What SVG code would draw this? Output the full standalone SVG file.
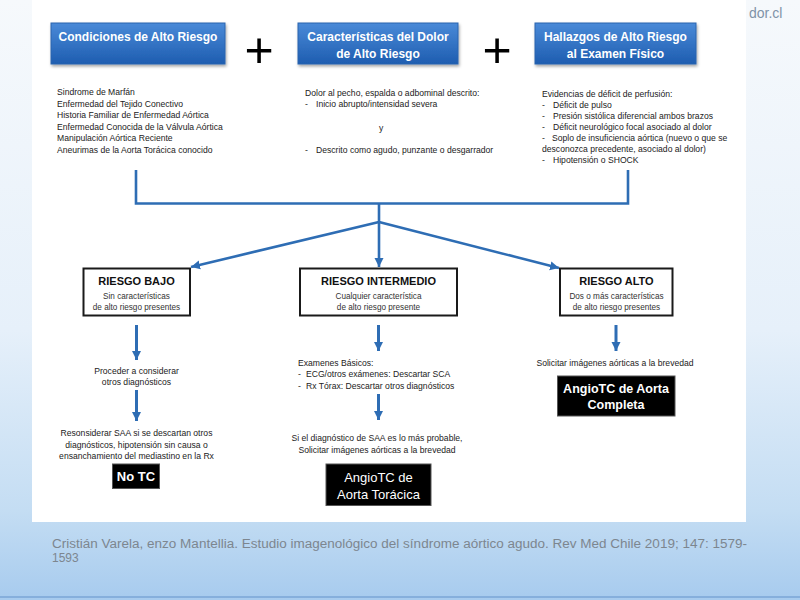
<svg xmlns="http://www.w3.org/2000/svg" width="800" height="600" viewBox="0 0 800 600">
<style>
text{font-family:"Liberation Sans",Arial,sans-serif;}
.hd{fill:#fff;font-weight:bold;font-size:12px;text-anchor:middle;}
.ls{fill:#222;font-size:8.6px;}
.ct{fill:#222;font-size:8.6px;text-anchor:middle;}
.rt{fill:#111;font-weight:bold;font-size:11px;text-anchor:middle;}
.rs{fill:#333;font-size:8.2px;text-anchor:middle;}
.bk{fill:#fff;font-size:13px;text-anchor:middle;}
.plus{fill:#000;font-size:50px;text-anchor:middle;}
.rbox{fill:#fff;stroke:#1a1a1a;stroke-width:2;}
.blk{fill:#000;stroke:#555;stroke-width:1;}
.bbox{fill:url(#bg);stroke:#2b65ae;stroke-width:1;filter:url(#sh);}
.con{fill:none;stroke:#2e6db4;stroke-width:2.6;}
.cap{font-size:12px;fill:#7d868f;}
</style>
<defs>
<linearGradient id="page" x1="0" y1="0" x2="0" y2="1">
<stop offset="0" stop-color="#f6f9fc"/>
<stop offset="0.55" stop-color="#e6f0fa"/>
<stop offset="0.85" stop-color="#c4ddf3"/>
<stop offset="1" stop-color="#a7cbee"/>
</linearGradient>
<linearGradient id="bg" x1="0" y1="0" x2="0" y2="1">
<stop offset="0" stop-color="#4a8ad8"/>
<stop offset="1" stop-color="#1e5db0"/>
</linearGradient>
<filter id="sh" x="-10%" y="-20%" width="130%" height="150%">
<feDropShadow dx="1" dy="2" stdDeviation="1.5" flood-color="#000" flood-opacity="0.35"/>
</filter>
<marker id="ah" markerUnits="userSpaceOnUse" markerWidth="10" markerHeight="10" refX="9" refY="5" orient="auto">
<path d="M0,0.5 L9,5 L0,9.5 Z" fill="#2e6db4"/>
</marker>
</defs>

<rect x="0" y="0" width="800" height="600" fill="url(#page)"/>
<rect x="0" y="596" width="800" height="2" fill="#86afdc"/>
<rect x="32" y="0" width="714" height="522" fill="#fff"/>
<text x="749" y="18" style="font-size:14px;fill:#7f93a8">dor.cl</text>

<g id="condiciones">
<rect class="bbox" x="51" y="23" width="174" height="41"/>
<text class="hd" x="138" y="40.5">Condiciones de Alto Riesgo</text>
<text class="ls" x="57" y="95">Sindrome de Marfán</text>
<text class="ls" x="57" y="106.5">Enfermedad del Tejido Conectivo</text>
<text class="ls" x="57" y="118">Historia Familiar de Enfermedad Aórtica</text>
<text class="ls" x="57" y="129.5">Enfermedad Conocida de la Válvula Aórtica</text>
<text class="ls" x="57" y="141">Manipulación Aórtica Reciente</text>
<text class="ls" x="57" y="152.5">Aneurimas de la Aorta Torácica conocido</text>
</g>

<text class="plus" x="259" y="66.5">+</text>

<g id="dolor">
<rect class="bbox" x="298" y="23" width="160" height="41"/>
<text class="hd" x="378" y="40.5">Características del Dolor</text>
<text class="hd" x="378" y="57.5">de Alto Riesgo</text>
<text class="ls" x="305" y="95.5">Dolor al pecho, espalda o adbominal descrito:</text>
<text class="ls" x="305" y="107">-</text>
<text class="ls" x="316" y="107">Inicio abrupto/intensidad severa</text>
<text class="ls" x="379" y="130.5">y</text>
<text class="ls" x="305" y="152.5">-</text>
<text class="ls" x="316" y="152.5">Descrito como agudo, punzante o desgarrador</text>
</g>

<text class="plus" x="497" y="66.5">+</text>

<g id="hallazgos">
<rect class="bbox" x="535" y="23" width="161" height="41"/>
<text class="hd" x="615.5" y="40.5">Hallazgos de Alto Riesgo</text>
<text class="hd" x="615.5" y="57.5">al Examen Físico</text>
<text class="ls" x="542" y="96.5">Evidencias de déficit de perfusión:</text>
<text class="ls" x="542" y="107.5">-</text>
<text class="ls" x="553" y="107.5">Déficit de pulso</text>
<text class="ls" x="542" y="118.5">-</text>
<text class="ls" x="553" y="118.5">Presión sistólica diferencial ambos brazos</text>
<text class="ls" x="542" y="129.5">-</text>
<text class="ls" x="553" y="129.5">Déficit neurológico focal asociado al dolor</text>
<text class="ls" x="542" y="140.5">-</text>
<text class="ls" x="552" y="140.5">Soplo de insuficiencia aórtica (nuevo o que se</text>
<text class="ls" x="542" y="151.5">desconozca precedente, asociado al dolor)</text>
<text class="ls" x="542" y="163">-</text>
<text class="ls" x="553" y="163">Hipotensión o SHOCK</text>
</g>

<g id="connectors">
<path class="con" d="M136,170 V203.5 H628 V170"/>
<path class="con" d="M379,203.5 V222"/>
<path class="con" d="M379,222 L379,267" marker-end="url(#ah)"/>
<path class="con" d="M379,222 L191,267" marker-end="url(#ah)"/>
<path class="con" d="M379,222 L559,268" marker-end="url(#ah)"/>
<path class="con" d="M136.5,325 V360" marker-end="url(#ah)" style="stroke-width:3"/>
<path class="con" d="M136.5,390 V421" marker-end="url(#ah)" style="stroke-width:3"/>
<path class="con" d="M378.5,325 V351" marker-end="url(#ah)" style="stroke-width:3"/>
<path class="con" d="M378.5,394 V420" marker-end="url(#ah)" style="stroke-width:3"/>
<path class="con" d="M616,325 V351" marker-end="url(#ah)" style="stroke-width:3"/>
</g>

<g id="riesgo-bajo">
<rect class="rbox" x="83.5" y="268.5" width="106.5" height="47"/>
<text class="rt" x="136.5" y="284.5">RIESGO BAJO</text>
<text class="rs" x="136.5" y="298.5">Sin características</text>
<text class="rs" x="136.5" y="309.5">de alto riesgo presentes</text>
</g>

<g id="riesgo-intermedio">
<rect class="rbox" x="300" y="268.5" width="157" height="47"/>
<text class="rt" x="378.5" y="284.5">RIESGO INTERMEDIO</text>
<text class="rs" x="378.5" y="298.5">Cualquier característica</text>
<text class="rs" x="378.5" y="309.5">de alto riesgo presente</text>
</g>

<g id="riesgo-alto">
<rect class="rbox" x="560" y="268.5" width="112.5" height="47"/>
<text class="rt" x="616.5" y="284.5">RIESGO ALTO</text>
<text class="rs" x="616.5" y="298.5">Dos o más características</text>
<text class="rs" x="616.5" y="309.5">de alto riesgo presentes</text>
</g>

<g id="proceder">
<text class="ct" x="136.5" y="373.5">Proceder a considerar</text>
<text class="ct" x="136.5" y="385">otros diagnósticos</text>
</g>

<g id="resonsiderar">
<text class="ct" x="136.5" y="436">Resonsiderar SAA si se descartan otros</text>
<text class="ct" x="136.5" y="447.5">diagnósticos, hipotensión sin causa o</text>
<text class="ct" x="136.5" y="459">ensanchamiento del mediastino en la Rx</text>
</g>

<g id="no-tc">
<rect class="blk" x="112.5" y="464" width="47" height="24.5"/>
<text class="bk" x="136" y="481" style="font-weight:bold">No TC</text>
</g>

<g id="examenes">
<text class="ls" x="298" y="366">Examenes Básicos:</text>
<text class="ls" x="298" y="377">-</text>
<text class="ls" x="306" y="377">ECG/otros exámenes: Descartar SCA</text>
<text class="ls" x="298" y="388.5">-</text>
<text class="ls" x="306" y="388.5">Rx Tórax: Descartar otros diagnósticos</text>
</g>

<g id="si-el-diagnostico">
<text class="ct" x="377" y="441">Si el diagnóstico de SAA es lo más probable,</text>
<text class="ct" x="377" y="452.5">Solicitar imágenes aórticas a la brevedad</text>
</g>

<g id="angiotc-toracica">
<rect class="blk" x="326" y="464" width="105" height="41.5"/>
<text class="bk" x="378.5" y="481.5">AngioTC de</text>
<text class="bk" x="378.5" y="499">Aorta Torácica</text>
</g>

<g id="solicitar">
<text class="ct" x="615" y="366">Solicitar imágenes aórticas a la brevedad</text>
</g>

<g id="angiotc-completa">
<rect class="blk" x="557.5" y="376" width="117.5" height="40"/>
<text class="bk" x="616" y="393" style="font-weight:bold;font-size:12.5px">AngioTC de Aorta</text>
<text class="bk" x="616" y="409" style="font-weight:bold;font-size:12.5px">Completa</text>
</g>

<text class="cap" x="52" y="547.5" textLength="695" lengthAdjust="spacingAndGlyphs">Cristián Varela, enzo Mantellia. Estudio imagenológico del síndrome aórtico agudo. Rev Med Chile 2019; 147: 1579-</text>
<text class="cap" x="52" y="561.5">1593</text>
</svg>
